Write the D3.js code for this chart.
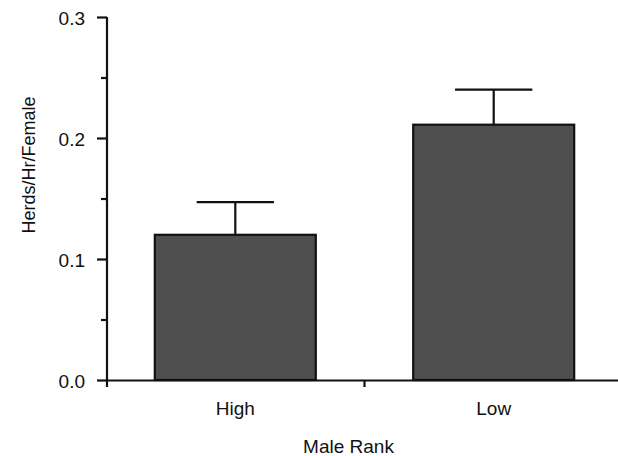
<!DOCTYPE html>
<html>
<head>
<meta charset="utf-8">
<script src="https://cdn.jsdelivr.net/npm/d3@7"></script>
<style>
  body { margin: 0; background: #fff; }
  text { font-family: "Liberation Sans", Arial, sans-serif; fill: #111; }
</style>
</head>
<body>
<div class="wrapper"></div>
<script>
const WIDTH = 618
const HEIGHT = 456
const margin = {left: 107, right: -4, top: 17, bottom: 76}

// data
var categories = ['High', 'Low']
var means = [0.12, 0.211]
var errTops = [0.147, 0.24]
var majorTicks = [0, 0.1, 0.2, 0.3]
var minorTicks = [0.05, 0.15, 0.25]

var svg = d3.select(".wrapper")
    .append("svg")
    .attr("width", WIDTH)
    .attr("height", HEIGHT)

var x = d3.scaleBand(categories, [margin.left, WIDTH - margin.right])
    .paddingInner(0.377)
    .paddingOuter(0.185)
var y = d3.scaleLinear([0, 0.3], [HEIGHT - margin.bottom, margin.top])

var bars = categories.map((c, i) => ({cat: c, mean: means[i], top: errTops[i]}))

// error bars (upper only), drawn before the bars
var eb = svg.append("g")
    .attr("stroke", "#111")
    .attr("stroke-width", 2.2)
eb.selectAll("line.stem")
  .data(bars)
  .join("line")
    .attr("class", "stem")
    .attr("x1", d => x(d.cat) + x.bandwidth() / 2)
    .attr("x2", d => x(d.cat) + x.bandwidth() / 2)
    .attr("y1", d => y(d.mean))
    .attr("y2", d => y(d.top))
eb.selectAll("line.cap")
  .data(bars)
  .join("line")
    .attr("class", "cap")
    .attr("x1", d => x(d.cat) + x.bandwidth() * 0.26)
    .attr("x2", d => x(d.cat) + x.bandwidth() * 0.74)
    .attr("y1", d => y(d.top))
    .attr("y2", d => y(d.top))

svg.append("g")
  .selectAll("rect")
  .data(bars)
  .join("rect")
    .attr("x", d => x(d.cat))
    .attr("y", d => y(d.mean))
    .attr("width", x.bandwidth())
    .attr("height", d => y(0) - y(d.mean))
    .attr("fill", "#4f4f4f")
    .attr("stroke", "#111")
    .attr("stroke-width", 2.2)

// y axis
var yAxis = svg.append("g")
    .attr("transform", `translate(${margin.left},0)`)
    .call(d3.axisLeft(y).tickValues(majorTicks).tickFormat(d3.format(".1f"))
        .tickSize(10).tickSizeOuter(0).tickPadding(12))
yAxis.select(".domain").attr("d", `M0,${y(0.3)}V${y(0) + 7}`)
yAxis.selectAll("path, line").attr("stroke", "#111").attr("stroke-width", 2.2)
yAxis.selectAll("text").style("font-size", "19px").attr("dy", "0.42em")

var yMinor = svg.append("g")
    .attr("transform", `translate(${margin.left},0)`)
    .call(d3.axisLeft(y).tickValues(minorTicks).tickFormat("").tickSize(6).tickSizeOuter(0))
yMinor.select(".domain").remove()
yMinor.selectAll("line").attr("stroke", "#111").attr("stroke-width", 2.2)

// x axis
var xAxis = svg.append("g")
    .attr("transform", `translate(0,${y(0)})`)
    .call(d3.axisBottom(x).tickSize(0).tickPadding(22).tickSizeOuter(0))
xAxis.select(".domain").attr("stroke", "#111").attr("stroke-width", 2.2)
xAxis.selectAll("text").style("font-size", "19px")

var mid = (x('High') + x.bandwidth() + x('Low')) / 2
svg.append("line")
    .attr("x1", mid).attr("x2", mid)
    .attr("y1", y(0)).attr("y2", y(0) + 7)
    .attr("stroke", "#111")
    .attr("stroke-width", 2.2)

// axis titles
svg.append("text")
    .attr("x", mid - 16)
    .attr("y", 453)
    .attr("text-anchor", "middle")
    .style("font-size", "19px")
    .text("Male Rank")

svg.append("text")
    .attr("transform", "translate(35,165) rotate(-90)")
    .attr("text-anchor", "middle")
    .style("font-size", "18px")
    .text("Herds/Hr/Female")
</script>
</body>
</html>
